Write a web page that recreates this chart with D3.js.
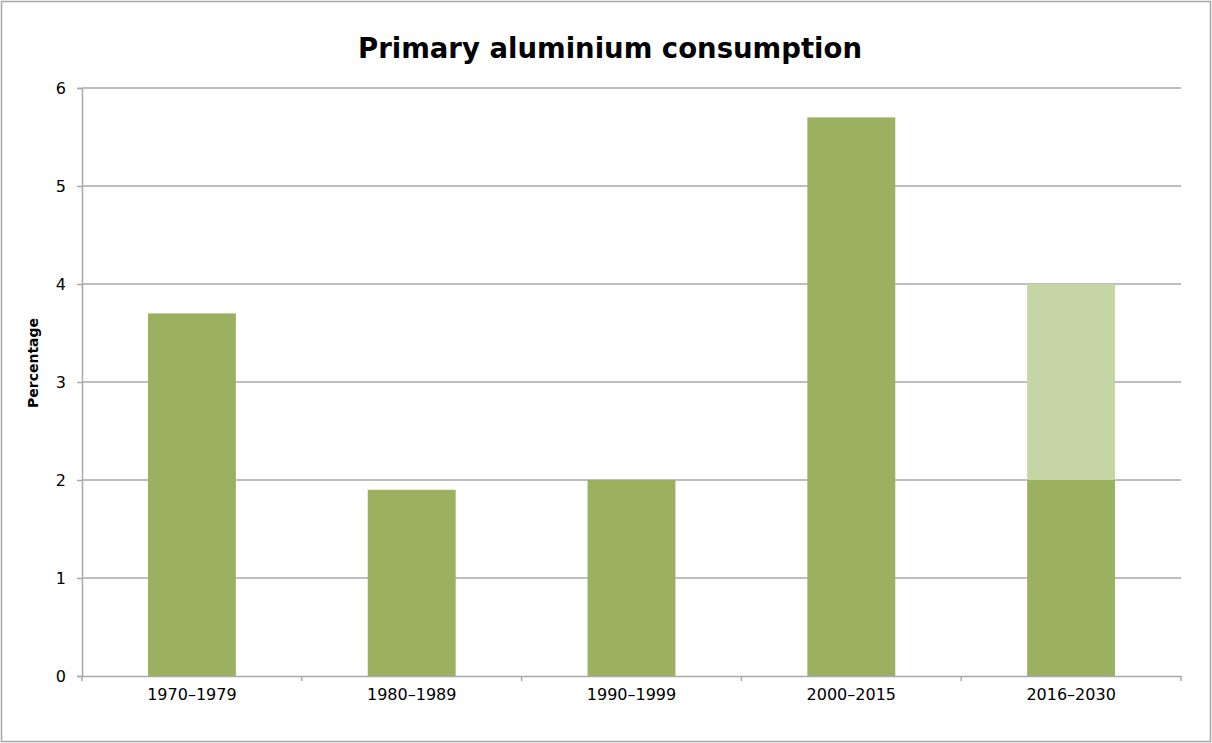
<!DOCTYPE html>
<html><head><meta charset="utf-8">
<script src="https://cdn.jsdelivr.net/npm/d3@7"></script>
<style>body{margin:0;background:#fff}svg{display:block}</style>
</head><body>
<svg id="c" width="1212" height="743"></svg>
<script>
const categories = ["1970–1979","1980–1989","1990–1999","2000–2015","2016–2030"];
const baseValues = [3.7, 1.9, 2.0, 5.7, 2.0];
const projectedValues = [0, 0, 0, 0, 2.0];
const yTicks = [0,1,2,3,4,5,6];
const title = "Primary aluminium consumption";
const yLabel = "Percentage";

const svg = d3.select("#c");
const W = 1212, H = 743;
const m = {left:82, right:1181, top:88, bottom:676};

svg.append("rect").attr("x",1.5).attr("y",1.5).attr("width",W-3).attr("height",H-3)
  .attr("fill","#fff").attr("stroke","#a6a6a6").attr("stroke-width",1.5);

const x = d3.scaleBand().domain(categories).range([m.left,m.right]).padding(0);
const y = d3.scaleLinear().domain([0,6]).range([m.bottom,m.top]);
const barW = x.bandwidth()*0.4;
const gridColor = "#a9a9a9";

// gridlines
svg.append("g").selectAll("line").data(yTicks.filter(d=>d>0)).join("line")
  .attr("x1",m.left).attr("x2",m.right).attr("y1",d=>y(d)).attr("y2",d=>y(d))
  .attr("stroke",gridColor).attr("stroke-width",1.5);

// bars
const g = svg.append("g");
g.selectAll(".b").data(categories).join("rect")
  .attr("x",d=>x(d)+(x.bandwidth()-barW)/2).attr("width",barW)
  .attr("y",(d,i)=>y(baseValues[i])).attr("height",(d,i)=>y(0)-y(baseValues[i]))
  .attr("fill","#9bb15f");
g.selectAll(".p").data(categories).join("rect")
  .attr("x",d=>x(d)+(x.bandwidth()-barW)/2).attr("width",barW)
  .attr("y",(d,i)=>y(baseValues[i]+projectedValues[i]))
  .attr("height",(d,i)=>y(baseValues[i])-y(baseValues[i]+projectedValues[i]))
  .attr("fill","#c5d5a5");

// y axis
const ya = svg.append("g").attr("transform",`translate(${m.left},0)`)
  .call(d3.axisLeft(y).tickValues(yTicks).tickSize(5).tickPadding(11).tickFormat(d3.format("d")));
ya.select(".domain").attr("stroke",gridColor).attr("stroke-width",1.5);
ya.selectAll(".tick line").attr("stroke",gridColor).attr("stroke-width",1.5);
ya.selectAll("text").attr("font-family","DejaVu Sans, sans-serif").attr("font-size",16).attr("fill","#000");

// x axis
const xa = svg.append("g").attr("transform",`translate(0,${m.bottom})`)
  .call(d3.axisBottom(x).tickSize(0).tickPadding(13));
xa.select(".domain").attr("stroke",gridColor).attr("stroke-width",1.5);
xa.selectAll("text").attr("font-family","DejaVu Sans, sans-serif").attr("font-size",16).attr("fill","#000");
// boundary ticks
const bounds = categories.map(c=>x(c)).concat([m.right]);
svg.append("g").selectAll("line").data(bounds).join("line")
  .attr("x1",d=>d).attr("x2",d=>d).attr("y1",m.bottom).attr("y2",m.bottom+5)
  .attr("stroke",gridColor).attr("stroke-width",1.5);

// title
svg.append("text").attr("x",610).attr("y",58).attr("text-anchor","middle")
  .attr("font-family","DejaVu Sans, sans-serif").attr("font-weight","bold").attr("font-size",27.5)
  .attr("fill","#000").text(title);

// y label
svg.append("text").attr("transform",`translate(38,363) rotate(-90)`)
  .attr("text-anchor","middle").attr("font-family","DejaVu Sans, sans-serif")
  .attr("font-weight","bold").attr("font-size",14).attr("fill","#000").text(yLabel);
</script>
</body></html>
